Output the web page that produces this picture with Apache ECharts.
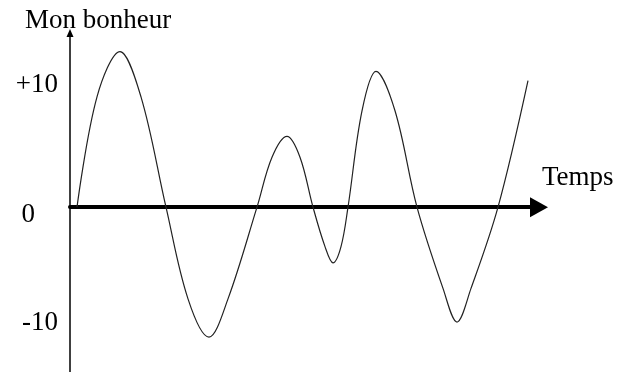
<!DOCTYPE html>
<html>
<head>
<meta charset="utf-8">
<script src="https://cdn.jsdelivr.net/npm/echarts@6/dist/echarts.min.js"></script>
<style>
html, body { margin: 0; padding: 0; background: #fff; }
#main { width: 631px; height: 372px; }
</style>
</head>
<body>
<div id="main"></div>
<script>
'use strict';
// courbe du bonheur : temps / bonheur
var temps   = [0.7, 2.7, 5.0, 7.1, 9.6, 11.8, 13.9, 15.8, 18.7, 20.2, 21.7, 23.0, 24.3,
               25.5, 26.3, 27.1, 27.8, 29.2, 30.6, 32.5, 34.7, 37.3, 38.7, 40.1, 42.8, 45.8];
var bonheur = [0, 9.5, 13.4, 9.5, 0, -7.9, -11.2, -7.9, 0, 4.3, 6.1, 4.3, 0,
               -3.4, -4.8, -3.4, 0, 8.3, 11.7, 8.3, 0, -7.0, -9.9, -7.0, 0, 10.9];
var yTicks  = [-10, 0, 10];

var points = [];
for (var i = 0; i < temps.length; i++) {
    points.push([temps[i], bonheur[i]]);
}

var serif = '"Liberation Serif", "Times New Roman", serif';
var myChart = echarts.init(document.getElementById('main'));
var option = {
    backgroundColor: '#fff',
    animation: false,
    grid: { left: 70, right: 92, top: 33, bottom: 0 },
    xAxis: {
        type: 'value',
        min: 0,
        max: 46.9,
        name: 'Temps',
        nameLocation: 'end',
        nameGap: 3,
        nameTextStyle: {
            fontFamily: serif, fontSize: 27, color: '#000',
            align: 'left', verticalAlign: 'bottom', padding: [0, 0, 16, 0]
        },
        axisLine: {
            show: true,
            symbol: ['none', 'triangle'],
            symbolSize: [20, 18],
            lineStyle: { color: '#000', width: 4 }
        },
        axisTick: { show: false },
        axisLabel: { show: false },
        splitLine: { show: false }
    },
    yAxis: {
        type: 'value',
        min: -14.2,
        max: 15,
        name: 'Mon bonheur',
        nameLocation: 'end',
        nameGap: -1,
        nameTextStyle: {
            fontFamily: serif, fontSize: 27, color: '#000',
            align: 'center', verticalAlign: 'bottom', padding: [0, 0, 0, 56]
        },
        axisLine: {
            show: true,
            symbol: ['none', 'triangle'],
            symbolSize: [7, 8],
            lineStyle: { color: '#000', width: 1.5 }
        },
        axisTick: { show: false },
        splitLine: { show: false },
        axisLabel: {
            customValues: yTicks,
            margin: 12,
            fontFamily: serif,
            fontSize: 27,
            color: '#000',
            formatter: function (v) {
                if (v > 0) return '{p|+' + v + '}';
                if (v == 0) return '{z|0}';
                return '{m|' + v + '}';
            },
            rich: {
                p: { fontFamily: serif, fontSize: 27, color: '#000', padding: [0, 0, 12, 0] },
                z: { fontFamily: serif, fontSize: 27, color: '#000', padding: [16, 23, 0, 0] },
                m: { fontFamily: serif, fontSize: 27, color: '#000' }
            }
        }
    },
    series: [
        {
            type: 'line',
            data: points,
            smooth: 0.35,
            symbol: 'none',
            lineStyle: { color: '#222', width: 1.2 }
        }
    ]
};
myChart.setOption(option);
</script>
</body>
</html>
